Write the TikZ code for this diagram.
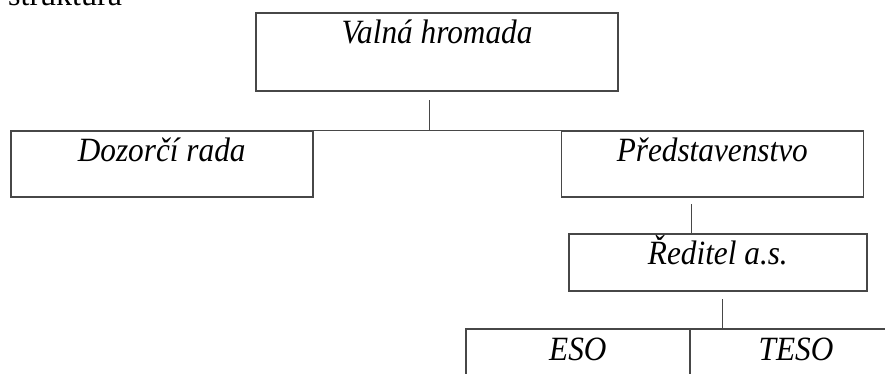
\documentclass[tikz,border=0pt]{standalone}
\usepackage{fontspec}
\setmainfont{Liberation Serif}
\definecolor{linecol}{HTML}{474747}
\newcommand\narrowtxt[1]{\scalebox{0.92}[1]{#1}}
\begin{document}
\begin{tikzpicture}[x=1pt,y=-1pt,
  box/.style={draw=linecol, line width=1.6pt, inner sep=0pt, outer sep=0pt, anchor=north west},
  lbl/.style={anchor=base, inner sep=0pt, font=\fontsize{34}{40}\selectfont\itshape},
  conn/.style={draw=linecol, line width=1.4pt}]
\clip (0,0) rectangle (885,373);
\fill[white] (0,0) rectangle (885,373);
\node[anchor=base west, inner sep=0pt, font=\fontsize{32}{38}\selectfont] (title) at (8,5) {struktura};
% boxes
\node[box, minimum width=362pt, minimum height=78pt] (valna) at (256,13) {};
\node[box, minimum width=302pt, minimum height=66pt] (dozor) at (10.7,130.7) {};
\node[box, minimum width=302pt, minimum height=66pt] (pred) at (561.3,130.7) {};
\node[box, minimum width=297.7pt, minimum height=57.3pt] (red) at (569,233.7) {};
\node[box, minimum width=224.3pt, minimum height=70pt] (eso) at (465.7,329) {};
\node[box, minimum width=212pt, minimum height=70pt] (teso) at (690,329) {};
% labels
\node[lbl] (valnaT) at ([yshift=-30pt]valna.north) {\narrowtxt{Valná hromada}};
\node[lbl] (dozorT) at ([yshift=-31pt]dozor.north) {\narrowtxt{Dozorčí rada}};
\node[lbl] (predT) at ([yshift=-31pt]pred.north) {\narrowtxt{Představenstvo}};
\node[lbl] (redT) at ([yshift=-31pt]red.north) {\narrowtxt{Ředitel a.s.}};
\node[lbl] (esoT) at ([yshift=-31pt]eso.north) {\narrowtxt{ESO}};
\node[lbl] (tesoT) at ([yshift=-31pt]teso.north) {\narrowtxt{TESO}};
% connectors
\coordinate (c1) at (429.3,100);
\coordinate (c2) at (691.3,204);
\coordinate (c3) at (722.5,299);
\draw[conn] (dozor.north east) -- (pred.north west);
\draw[conn] (c1) -- (c1 |- dozor.north);
\draw[conn] (c2) -- (c2 |- red.north);
\draw[conn] (c3) -- (c3 |- eso.north);
\end{tikzpicture}
\end{document}
